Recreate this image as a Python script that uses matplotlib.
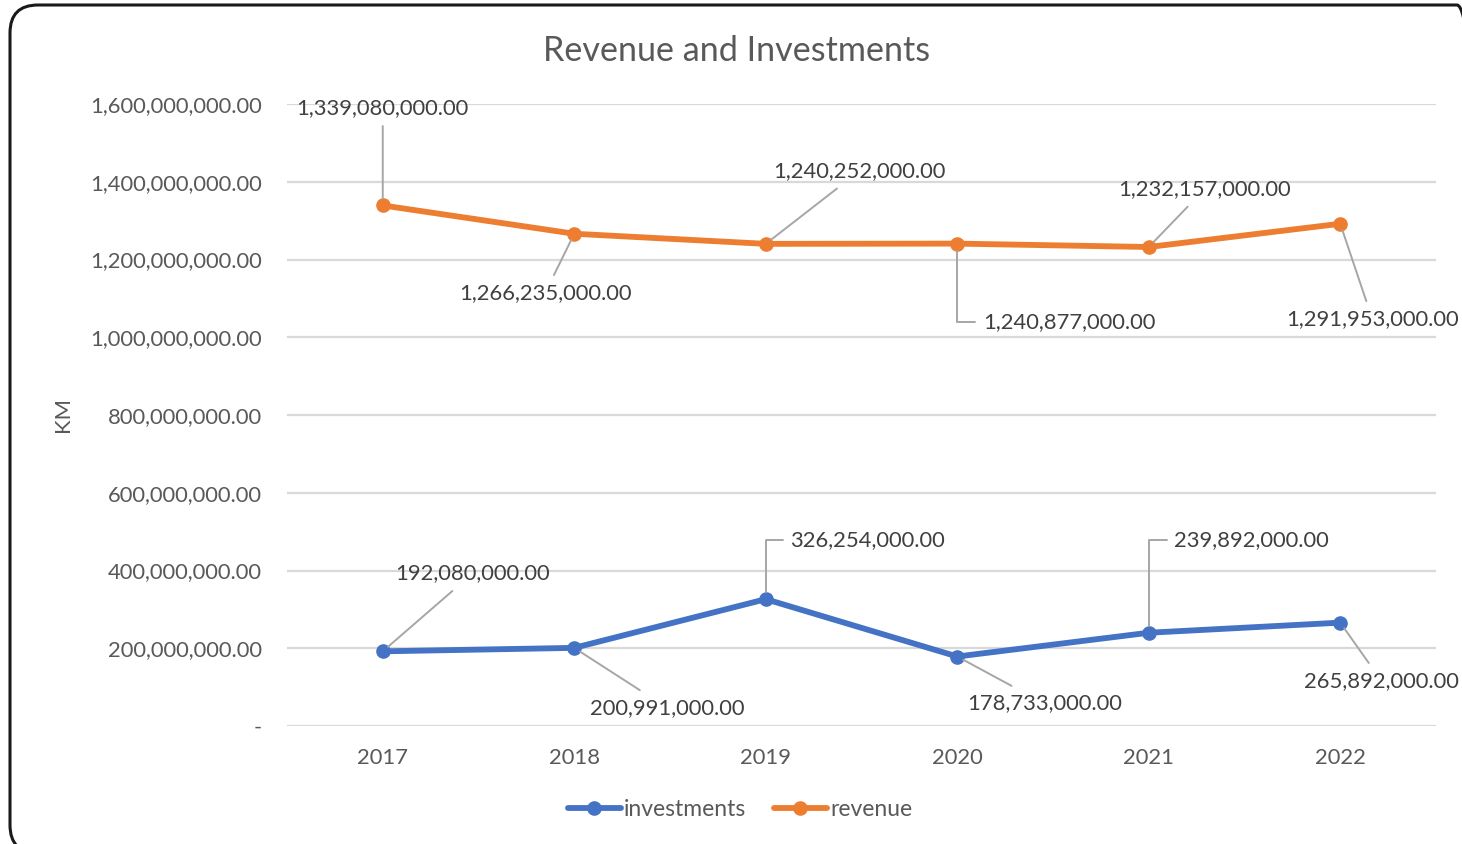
import matplotlib
matplotlib.use("Agg")
import matplotlib.pyplot as plt
from matplotlib.patches import FancyBboxPatch
from matplotlib.ticker import FuncFormatter
from matplotlib.lines import Line2D

years = ["2017", "2018", "2019", "2020", "2021", "2022"]
investments = [192080000, 200991000, 326254000, 178733000, 239892000, 265892000]
revenue = [1339080000, 1266235000, 1240252000, 1240877000, 1232157000, 1291953000]

# label offsets in pixels (dx, dy) relative to the point, and leader style
rev_offsets = [(0, 97, 'straight'), (-29, -59, 'straight'), (94, 73, 'straight'),
               (112, -78, 'elbow'), (56, 58, 'straight'), (32, -95, 'straight')]
inv_offsets = [(90, 78, 'straight'), (93, -60, 'straight'), (102, 59, 'elbow'),
               (87, -47, 'straight'), (103, 93, 'elbow'), (41, -58, 'straight')]

BLUE = "#4472C4"
ORANGE = "#ED7D31"
TXT = "#595959"
LBL = "#404040"
GRID = "#D9D9D9"
LEADER = "#A6A6A6"
FONT = "Lato"
FS = 15.8

plt.rcParams['font.family'] = [FONT, 'DejaVu Sans']

fig = plt.figure(figsize=(14.62, 8.44), dpi=100)
fig.patch.set_facecolor("white")

# rounded frame in display pixels (origin bottom-left)
border = FancyBboxPatch((10, -9), 1475, 848,
                        boxstyle="round,pad=0,rounding_size=28",
                        transform=None, fc="none", ec="#1a1a1a", lw=2.2,
                        clip_on=False, zorder=0)
fig.patches.append(border)

ax = fig.add_axes([287 / 1462, 118 / 844, 1149 / 1462, 622 / 844])
ax.set_facecolor("none")
ax.set_zorder(2)
x = list(range(len(years)))

ax.plot(x, investments, color=BLUE, lw=4.2, marker='o', ms=9.5, solid_capstyle='round',
        label="investments", zorder=3)
ax.plot(x, revenue, color=ORANGE, lw=4.2, marker='o', ms=9.5, solid_capstyle='round',
        label="revenue", zorder=3)

ax.set_xlim(-0.5, len(years) - 0.5)
ax.set_ylim(0, 1.6e9)
ax.set_yticks([i * 2e8 for i in range(9)])
ax.yaxis.set_major_formatter(FuncFormatter(lambda v, p: "-" if v == 0 else f"{v:,.2f}"))
ax.set_xticks(x)
ax.set_xticklabels(years)
ax.grid(axis='y', color=GRID, lw=1.6)
ax.set_axisbelow(True)
for s in ax.spines.values():
    s.set_visible(False)
ax.tick_params(axis='both', length=0, labelsize=FS, colors=TXT)
ax.tick_params(axis='y', pad=18)
ax.tick_params(axis='x', pad=16)

ax.set_ylabel("KM", fontsize=FS, color=TXT)
ax.yaxis.set_label_coords(-214 / 1149, 0.5)


def annotate(vals, offs):
    for i, (v, (dx, dy, kind)) in enumerate(zip(vals, offs)):
        if kind == 'elbow':
            ap = dict(arrowstyle='-', color=LEADER, lw=1.4, shrinkA=0, shrinkB=5,
                      relpos=(0, 0.5), connectionstyle="angle,angleA=180,angleB=90,rad=0")
        else:
            ap = dict(arrowstyle='-', color=LEADER, lw=1.4, shrinkA=0, shrinkB=5)
        ax.annotate(f"{v:,.2f}", xy=(i, v), xytext=(dx, dy), textcoords='offset pixels',
                    ha='center', va='center', fontsize=FS, color=LBL,
                    bbox=dict(boxstyle='square,pad=0.35', fc='none', ec='none'),
                    arrowprops=ap, zorder=4, annotation_clip=False)


annotate(revenue, rev_offsets)
annotate(investments, inv_offsets)

fig.text(737 / 1462, 1 - 51 / 844, "Revenue and Investments", ha='center', va='center',
         fontsize=24.6, color=TXT)

handles = [Line2D([0], [0], color=BLUE, lw=4.2, marker='o', ms=9.5, solid_capstyle='round'),
           Line2D([0], [0], color=ORANGE, lw=4.2, marker='o', ms=9.5, solid_capstyle='round')]
fig.legend(handles, ["investments", "revenue"], loc='center', bbox_to_anchor=(740 / 1462, 1 - 810 / 844),
           ncol=2, frameon=False, fontsize=16.5, labelcolor=TXT, handlelength=2.3,
           handletextpad=0.15, columnspacing=1.2)

fig.savefig("out.png", dpi=100)
